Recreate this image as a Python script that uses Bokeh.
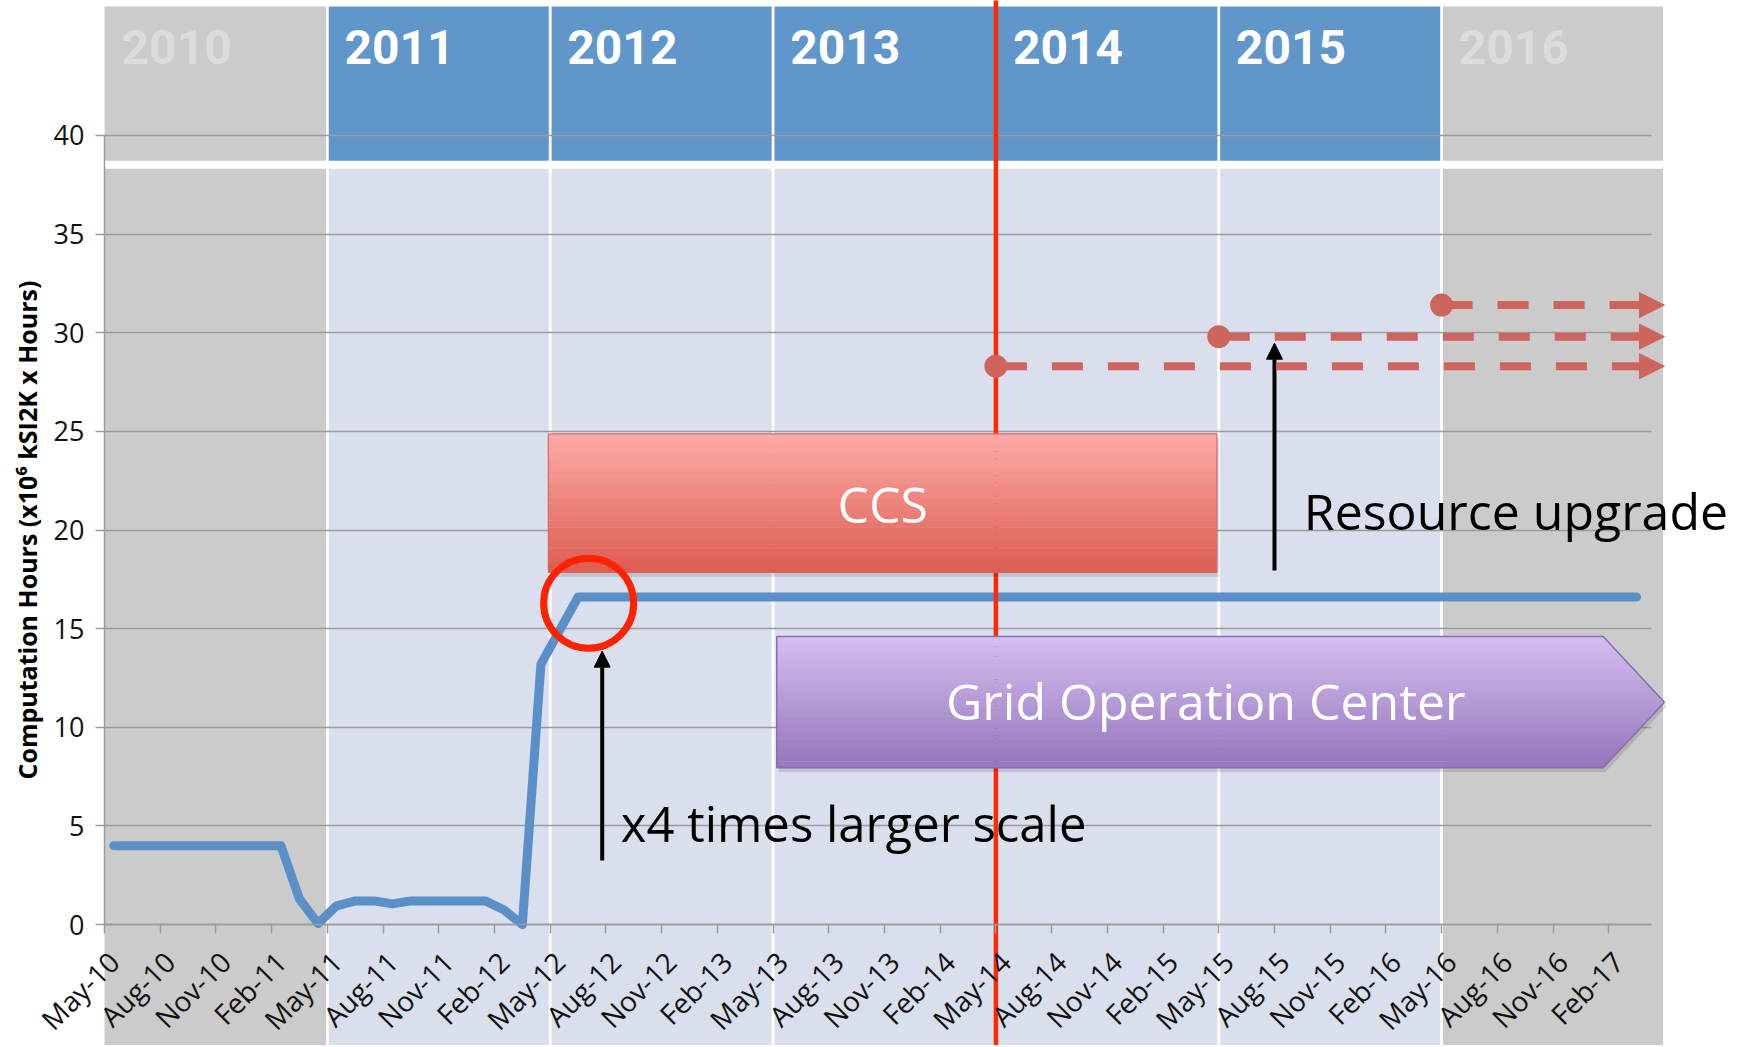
import math
from bokeh.plotting import figure
from bokeh.models import (Range1d, LinearAxis, FixedTicker, Grid, Label, Arrow,
                          NormalHead, ColumnDataSource)
from bokeh.embed import file_html
from bokeh.resources import INLINE

# ------------------------------------------------------------------ data
tick_labels = ["May-10", "Aug-10", "Nov-10", "Feb-11", "May-11", "Aug-11", "Nov-11",
               "Feb-12", "May-12", "Aug-12", "Nov-12", "Feb-13", "May-13", "Aug-13",
               "Nov-13", "Feb-14", "May-14", "Aug-14", "Nov-14", "Feb-15", "May-15",
               "Aug-15", "Nov-15", "Feb-16", "May-16", "Aug-16", "Nov-16", "Feb-17"]

# monthly computation hours (x10^6 kSI2K x Hours), May-10 .. Mar-17
hours = [4.0, 4.0, 4.0, 4.0, 4.0, 4.0, 4.0, 4.0, 4.0, 4.0,
         1.3, 0.05, 0.95, 1.2, 1.2, 1.05, 1.2, 1.2, 1.2, 1.2, 1.2, 0.75, 0.0,
         13.2, 14.9,
         16.6, 16.6, 16.6, 16.6, 16.6, 16.6, 16.6, 16.6, 16.6, 16.6,
         16.6, 16.6, 16.6, 16.6, 16.6, 16.6, 16.6, 16.6, 16.6, 16.6,
         16.6, 16.6, 16.6, 16.6, 16.6, 16.6, 16.6, 16.6, 16.6, 16.6,
         16.6, 16.6, 16.6, 16.6, 16.6, 16.6, 16.6, 16.6, 16.6, 16.6,
         16.6, 16.6, 16.6, 16.6, 16.6, 16.6, 16.6, 16.6, 16.6, 16.6,
         16.6, 16.6, 16.6, 16.6, 16.6, 16.6, 16.6, 16.6]

y_ticks = [0, 5, 10, 15, 20, 25, 30, 35, 40]

year_labels = ["2010", "2011", "2012", "2013", "2014", "2015", "2016"]
year_start = [0, 12, 24, 36, 48, 60, 72]          # month index where each year column starts
year_active = [False, True, True, True, True, True, False]

# planned resource upgrades: start month index and level
upgrade_start = [48, 60, 72]
upgrade_level = [28.3, 29.8, 31.4]

now_month = 48                                     # May-14 marker

ccs_span = (23.9, 59.9)
ccs_level = (17.85, 24.87)
goc_span = (36.2, 80.7, 84.0)
goc_level = (7.95, 14.6)

# ------------------------------------------------------------------ style
GRID = "#9B9B9B"
GRAY = "#CBCBCB"
BLUE_HDR = "#6096C9"
BODY = "#D9DFEC"
LINE_BLUE = "#5B8FC8"
RED = "#FF2A00"
DASH_RED = "#CE655D"
FONT = "Open Sans"

n_months = len(hours)
X_END = 84.0
HDR_TOP, HDR_BOTTOM, BODY_TOP = 46.53, 38.72, 38.31

W, H = 1745, 1045
PX_X = 18.571      # px per month
PX_Y = 19.73       # px per unit
X0_PX, Y0_PX = 104.0, 924.1

p = figure(width=W, height=H,
           x_range=Range1d(-X0_PX / PX_X, (W - X0_PX) / PX_X),
           y_range=Range1d((Y0_PX - H) / PX_Y, Y0_PX / PX_Y),
           x_axis_type=None, y_axis_type=None, output_backend="svg", toolbar_location=None,
           title=None, min_border_left=0, min_border_right=0, min_border_top=0,
           min_border_bottom=0, outline_line_color=None, background_fill_color="white",
           border_fill_color="white")

# ---------------- background columns
g = 0.075
col_l = [s + g for s in year_start]
col_r = [s + 12 - g for s in year_start]
col_l[0] = 0
hdr_col = [BLUE_HDR if a else GRAY for a in year_active]
body_col = [BODY if a else GRAY for a in year_active]
r = p.quad(left=col_l, right=col_r, bottom=HDR_BOTTOM, top=HDR_TOP, fill_color=hdr_col, line_color=None)
r.level = "image"
r = p.quad(left=col_l, right=col_r, bottom=-9, top=BODY_TOP, fill_color=body_col, line_color=None)
r.level = "image"

# ---------------- axes & grid
grid = Grid(dimension=1, ticker=FixedTicker(ticks=y_ticks), cross_bounds=(0, 83.3),
            grid_line_color=GRID, grid_line_width=1.5)
p.add_layout(grid, "center")

yaxis = LinearAxis(ticker=FixedTicker(ticks=y_ticks), fixed_location=0, bounds=(0, 40),
                   axis_label="Computation Hours (x10\u2076 kSI2K x Hours)",
                   axis_label_text_font=FONT, axis_label_text_font_style="bold",
                   axis_label_text_font_size="25px", axis_label_text_color="black",
                   axis_label_standoff=7,
                   axis_line_color=GRID, axis_line_width=1.5,
                   major_tick_line_color=GRID, major_tick_line_width=1.5,
                   major_tick_out=9, major_tick_in=0, minor_tick_line_color=None,
                   major_label_standoff=11, major_label_text_font=FONT,
                   major_label_text_font_size="27px", major_label_text_color="#111111")
p.add_layout(yaxis, "left")

xtick_axis = LinearAxis(ticker=FixedTicker(ticks=list(range(0, n_months, 3))), fixed_location=0,
                        bounds=(0, 83.3), axis_line_color=GRID, axis_line_width=1.5,
                        major_tick_line_color=GRID, major_tick_line_width=1.5,
                        major_tick_out=9, major_tick_in=0, minor_tick_line_color=None,
                        major_label_text_color=None)
p.add_layout(xtick_axis, "below")

label_pos = [3 * k + 0.5 for k in range(len(tick_labels))]
xlab_axis = LinearAxis(ticker=FixedTicker(ticks=label_pos), fixed_location=0,
                       major_label_overrides={pos: lab for pos, lab in zip(label_pos, tick_labels)},
                       axis_line_color=None, major_tick_line_color=None,
                       minor_tick_line_color=None, major_label_orientation=math.pi / 4,
                       major_label_standoff=26, major_label_text_font=FONT,
                       major_label_text_font_size="28px", major_label_text_color="#111111")
p.add_layout(xlab_axis, "below")

# year header labels
for yl, ys, act in zip(year_labels, year_start, year_active):
    p.add_layout(Label(x=ys + 0.92, y=44.49, text=yl, text_font="Roboto", text_font_style="bold",
                       text_font_size="48px", text_color="white" if act else "#DCDCDC",
                       text_align="left", text_baseline="middle"))

# ---------------- data line
xs = [i + 0.5 for i in range(n_months)]
p.line(xs, hours, line_color=LINE_BLUE, line_width=9, line_join="round", line_cap="round")

# ---------------- "now" vertical line
p.segment(x0=[now_month], y0=[-9], x1=[now_month], y1=[48], line_color=RED, line_width=4.5)


def lerp(c1, c2, t):
    a = [int(c1[i:i + 2], 16) for i in (1, 3, 5)]
    b = [int(c2[i:i + 2], 16) for i in (1, 3, 5)]
    return "#%02x%02x%02x" % tuple(int(round(a[k] + (b[k] - a[k]) * t)) for k in range(3))


# ---------------- CCS box (vertical gradient)
N = 40
x0, x1 = ccs_span
yb, yt = ccs_level
p.quad(left=[x0 + 0.12], right=[x1 + 0.12], bottom=[yb - 0.22], top=[yt - 0.22],
       fill_color="black", fill_alpha=0.12, line_color=None)
tops = [yt - (yt - yb) * k / N for k in range(N)]
bots = [yt - (yt - yb) * (k + 1) / N - 0.02 for k in range(N)]
cols = [lerp("#FFAAA7", "#DC5C50", (k + 0.5) / N) for k in range(N)]
p.quad(left=x0, right=x1, top=tops, bottom=[max(b, yb) for b in bots], fill_color=cols, line_color=None)
p.quad(left=[x0], right=[x1], top=[yt], bottom=[yb], fill_color=None, line_color="#D66A61", line_width=1.2)

# ---------------- Grid Operation Center pentagon (vertical gradient)
gx0, gxb, gxt = goc_span
gyb, gyt = goc_level
gym = (gyb + gyt) / 2
half = (gyt - gyb) / 2


def xr(y):
    return gxb + (gxt - gxb) * (1 - abs(y - gym) / half)


p.patch([gx0 + 0.12, gxb + 0.12, gxt + 0.12, gxb + 0.12, gx0 + 0.12],
        [gyt - 0.22, gyt - 0.22, gym - 0.22, gyb - 0.22, gyb - 0.22],
        fill_color="black", fill_alpha=0.12, line_color=None)
pxs, pys, pcols = [], [], []
for k in range(N):
    ya = gyt - (gyt - gyb) * k / N
    yb2 = max(gyt - (gyt - gyb) * (k + 1) / N - 0.02, gyb)
    pxs.append([gx0, xr(ya), xr(yb2), gx0])
    pys.append([ya, ya, yb2, yb2])
    pcols.append(lerp("#D5BFF2", "#9474BA", (k + 0.5) / N))
p.patches(pxs, pys, fill_color=pcols, line_color=None)
p.patch([gx0, gxb, gxt, gxb, gx0], [gyt, gyt, gym, gyb, gyb], fill_color=None,
        line_color="#8A6DB3", line_width=1.5)

p.add_layout(Label(x=41.9, y=21.32, text="CCS", text_font=FONT, text_font_size="50px",
                   text_color="white", text_align="center", text_baseline="middle"))
p.add_layout(Label(x=59.3, y=11.33, text="Grid Operation Center", text_font=FONT,
                   text_font_size="50px", text_color="white", text_align="center",
                   text_baseline="middle"))

# ---------------- red circle highlight
p.scatter([26.07], [16.29], size=90, fill_color=None, line_color="#FF2200", line_width=7)

# ---------------- black annotation arrows
p.add_layout(Arrow(x_start=26.8, y_start=3.25, x_end=26.8, y_end=13.86, line_color="black",
                   line_width=4, end=NormalHead(size=16, fill_color="black", line_color="black")))
p.add_layout(Arrow(x_start=63.0, y_start=17.95, x_end=63.0, y_end=29.47, line_color="black",
                   line_width=4, end=NormalHead(size=16, fill_color="black", line_color="black")))
p.add_layout(Label(x=27.8, y=5.14, text="x4 times larger scale", text_font=FONT,
                   text_font_size="49px", text_color="black", text_align="left",
                   text_baseline="middle"))
p.add_layout(Label(x=64.58, y=20.96, text="Resource upgrade", text_font=FONT,
                   text_font_size="50px", text_color="black", text_align="left",
                   text_baseline="middle"))

# ---------------- planned upgrades (dashed arrows)
up_src = ColumnDataSource(dict(xs=upgrade_start, ys=upgrade_level,
                               xe=[X_END for _ in upgrade_start], ye=upgrade_level))
p.add_layout(Arrow(source=up_src, x_start="xs", y_start="ys", x_end="xe", y_end="ye",
                   line_color=DASH_RED, line_width=8, line_dash="31 25",
                   end=NormalHead(size=25, fill_color=DASH_RED, line_color=DASH_RED)))
p.scatter(upgrade_start, upgrade_level, size=23, fill_color=DASH_RED, line_color=None)

open("out.html", "w").write(file_html(p, INLINE))
